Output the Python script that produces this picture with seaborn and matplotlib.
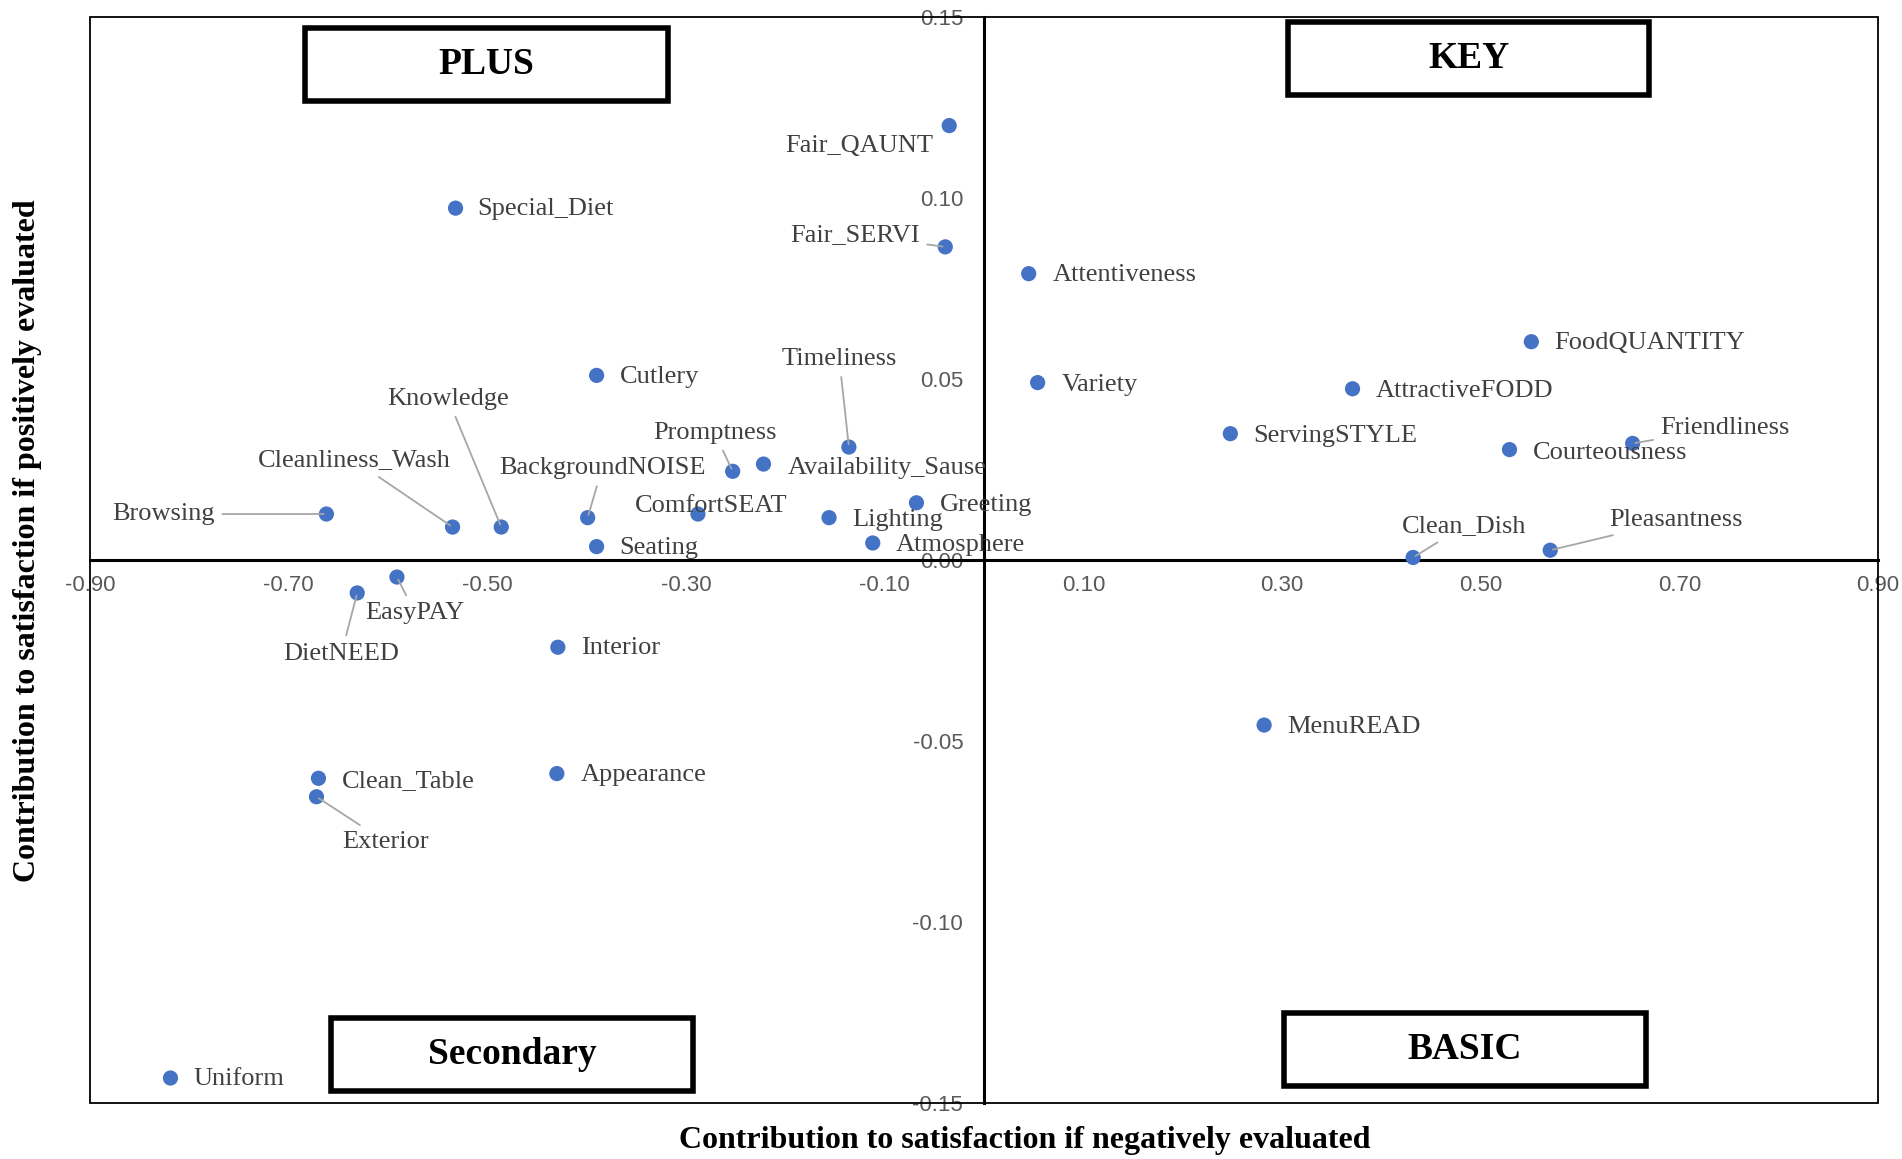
import matplotlib
matplotlib.use("Agg")
import matplotlib.pyplot as plt
from matplotlib.patches import Rectangle
from matplotlib import font_manager
import seaborn as sns
import pandas as pd

# ---------------- data ----------------
attributes = ["Fair_QAUNT", "Special_Diet", "Fair_SERVI", "Attentiveness", "FoodQUANTITY",
              "Cutlery", "Variety", "AttractiveFODD", "ServingSTYLE", "Friendliness",
              "Timeliness", "Courteousness", "Availability_Sause", "Promptness", "Greeting",
              "Browsing", "ComfortSEAT", "Lighting", "BackgroundNOISE", "Cleanliness_Wash",
              "Knowledge", "Atmosphere", "Seating", "Clean_Dish", "Pleasantness",
              "EasyPAY", "DietNEED", "Interior", "MenuREAD", "Appearance",
              "Clean_Table", "Exterior", "Uniform"]
neg_contrib = [-0.035, -0.532, -0.039, 0.045, 0.551,
               -0.390, 0.054, 0.371, 0.248, 0.653,
               -0.136, 0.529, -0.222, -0.253, -0.068,
               -0.662, -0.288, -0.156, -0.399, -0.535,
               -0.486, -0.112, -0.390, 0.432, 0.570,
               -0.591, -0.631, -0.429, 0.282, -0.430,
               -0.670, -0.672, -0.819]
pos_contrib = [0.120, 0.0972, 0.0865, 0.0791, 0.0603,
               0.0510, 0.0490, 0.0473, 0.0349, 0.0322,
               0.0312, 0.0305, 0.0265, 0.0245, 0.0158,
               0.0127, 0.0127, 0.0117, 0.0117, 0.0091,
               0.0091, 0.0047, 0.0037, 0.0007, 0.0027,
               -0.0047, -0.0091, -0.0241, -0.0456, -0.0590,
               -0.0603, -0.0654, -0.1431]
x_ticks = [-0.90, -0.70, -0.50, -0.30, -0.10, 0.10, 0.30, 0.50, 0.70, 0.90]
y_ticks = [-0.15, -0.10, -0.05, 0.00, 0.05, 0.10, 0.15]
quadrants = ["PLUS", "KEY", "Secondary", "BASIC"]
x_title = "Contribution to satisfaction if negatively evaluated"
y_title = "Contribution to satisfaction if positively evaluated"

df = pd.DataFrame({"attr": attributes, "neg": neg_contrib, "pos": pos_contrib})

# ---------------- layout / style (label offsets in reference px, up = +) ----------------
label_layout = {
    "Fair_QAUNT": (-13, -17, "right", False),
    "Special_Diet": (18, -1, "left", False),
    "Fair_SERVI": (-21, 10, "right", True),
    "Attentiveness": (20, -1, "left", False),
    "FoodQUANTITY": (19, -1, "left", False),
    "Cutlery": (19, -1, "left", False),
    "Variety": (20, -2, "left", False),
    "AttractiveFODD": (19, -2, "left", False),
    "ServingSTYLE": (19, -2, "left", False),
    "Friendliness": (23, 13, "left", True),
    "Timeliness": (-8, 73, "center", True),
    "Courteousness": (19, -3, "left", False),
    "Availability_Sause": (20, -3, "left", False),
    "Promptness": (-15, 32, "center", True),
    "Greeting": (19, -2, "left", False),
    "Browsing": (-92, 0, "right", True),
    "ComfortSEAT": (11, 7, "center", False),
    "Lighting": (19, -2, "left", False),
    "BackgroundNOISE": (12, 41, "center", True),
    "Cleanliness_Wash": (-81, 55, "center", True),
    "Knowledge": (-44, 106, "center", True),
    "Atmosphere": (19, -2, "left", False),
    "Seating": (19, -1, "left", False),
    "Clean_Dish": (42, 26, "center", True),
    "Pleasantness": (49, 25, "left", True),
    "EasyPAY": (15, -30, "center", True),
    "DietNEED": (-13, -50, "center", True),
    "Interior": (19, -1, "left", False),
    "MenuREAD": (19, -2, "left", False),
    "Appearance": (20, -1, "left", False),
    "Clean_Table": (19, -2, "left", False),
    "Exterior": (21, -37, "left", True),
    "Uniform": (19, -1, "left", False),
}
PX2PT = 0.873

sns.set_style("white")
serif = ["Liberation Serif", "DejaVu Serif"]
names = {f.name for f in font_manager.fontManager.ttflist}
tick_family = "Liberation Sans Narrow" if "Liberation Sans Narrow" in names else "Liberation Sans"
tick_size = 18 if tick_family == "Liberation Sans Narrow" else 16
plt.rcParams["font.family"] = serif

fig = plt.figure(figsize=(19.02, 11.59), dpi=100)
ax = fig.add_axes([90 / 1902, 1 - 1103 / 1159, (1878 - 90) / 1902, (1103 - 17) / 1159])

sns.scatterplot(data=df, x="neg", y="pos", ax=ax, color="#4472C4", s=120,
                edgecolor="none", zorder=5, legend=False)

ax.set_xlim(-0.9, 0.9)
ax.set_ylim(-0.15, 0.15)
ax.set_xticks(x_ticks)
ax.set_yticks(y_ticks)
ax.set_xticklabels([f"{v:.2f}" for v in x_ticks])
ax.set_yticklabels([f"{v:.2f}" for v in y_ticks])

for s in ["top", "right"]:
    ax.spines[s].set_visible(False)
ax.spines["left"].set_position(("data", 0))
ax.spines["bottom"].set_position(("data", 0))
ax.spines["left"].set_linewidth(2.2)
ax.spines["bottom"].set_linewidth(2.2)
ax.spines["left"].set_color("black")
ax.spines["bottom"].set_color("black")
ax.add_patch(Rectangle((0, 0), 1, 1, transform=ax.transAxes, fill=False,
                       lw=1.3, edgecolor="black", clip_on=False, zorder=1))

ax.tick_params(axis="both", length=0, labelcolor="#595959", labelsize=tick_size)
ax.tick_params(axis="x", pad=11)
ax.tick_params(axis="y", pad=15)
for lab in ax.get_xticklabels() + ax.get_yticklabels():
    lab.set_family(tick_family)

ax.set_xlabel(x_title, fontsize=23, fontweight="bold", color="black", family=serif)
ax.set_ylabel(y_title, fontsize=23, fontweight="bold", color="black", family=serif)
ax.xaxis.set_label_coords(0.523, -0.021)
ax.yaxis.set_label_coords(-0.027, 0.518)

for _, row in df.iterrows():
    dx, dy, ha, leader = label_layout[row["attr"]]
    kw = {}
    if leader:
        kw["arrowprops"] = dict(arrowstyle="-", color="#A6A6A6", lw=1.3,
                                shrinkA=3, shrinkB=2)
    ax.annotate(row["attr"], xy=(row["neg"], row["pos"]),
                xytext=(dx * PX2PT, dy * PX2PT), textcoords="offset points",
                ha=ha, va="center", fontsize=19, color="#404040",
                family=serif, zorder=6, **kw)

# quadrant boxes (axes fractions)
boxes = {
    "PLUS": (0.120, 0.923, 0.323, 0.990),
    "KEY": (0.670, 0.928, 0.872, 0.9955),
    "Secondary": (0.135, 0.0112, 0.337, 0.0782),
    "BASIC": (0.668, 0.0156, 0.870, 0.0827),
}
for q in quadrants:
    x0, y0, x1, y1 = boxes[q]
    ax.add_patch(Rectangle((x0, y0), x1 - x0, y1 - y0, transform=ax.transAxes,
                           fill=True, facecolor="white", edgecolor="black",
                           lw=4, zorder=7))
    ax.text((x0 + x1) / 2, (y0 + y1) / 2, q, transform=ax.transAxes,
            ha="center", va="center", fontsize=27, fontweight="bold",
            color="black", family=serif, zorder=8)

fig.savefig("out.png", dpi=100)
